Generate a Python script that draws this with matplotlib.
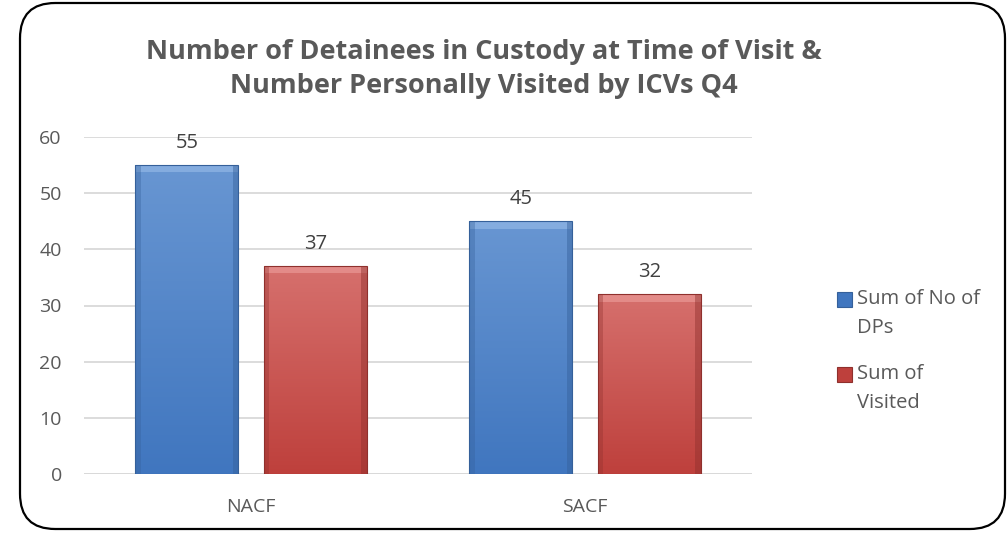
import matplotlib
matplotlib.use('Agg')
import matplotlib.pyplot as plt
import numpy as np
from matplotlib.patches import FancyBboxPatch, Rectangle

# ---- data ----
categories = ['NACF', 'SACF']
series_names = ['Sum of No of\nDPs', 'Sum of\nVisited']
no_of_dps = [55, 45]
visited = [37, 32]
yticks = [0, 10, 20, 30, 40, 50, 60]

plt.rcParams['font.family'] = ['Open Sans', 'DejaVu Sans']
TXT = '#595959'
W, H = 1008, 535

fig = plt.figure(figsize=(W / 100, H / 100), dpi=100)
ax = fig.add_axes([84 / W, 1 - 474 / H, 668 / W, 337 / H])

x = np.arange(len(categories))
width = 0.308
off = 0.192

# (top, bottom, edge, bevel light)
blue = ('#6896D2', '#4076BF', '#35609A', '#9CC0EC')
red = ('#D6706D', '#BE403C', '#8F302D', '#EFA3A1')

bars1 = ax.bar(x - off, no_of_dps, width, color=blue[1], lw=0, zorder=3)
bars2 = ax.bar(x + off, visited, width, color=red[1], lw=0, zorder=3)


def shade(bars, cols):
    cmap = matplotlib.colors.LinearSegmentedColormap.from_list('g', [cols[1], cols[0]])
    grad = np.linspace(0, 1, 256).reshape(-1, 1)
    for b in bars:
        x0, w, h = b.get_x(), b.get_width(), b.get_height()
        im = ax.imshow(grad, cmap=cmap, aspect='auto', origin='lower',
                       extent=(x0, x0 + w, 0, h), zorder=3.5)
        im.set_clip_path(b)
        # bevel: light strip on top, darker sides
        ax.bar(x0 + w / 2, 1.3, w, bottom=h - 1.3, color=cols[3], alpha=0.55, lw=0, zorder=3.6)
        ax.bar(x0 + 0.008, h, 0.016, color=cols[2], alpha=0.35, lw=0, zorder=3.6)
        ax.bar(x0 + w - 0.008, h, 0.016, color=cols[2], alpha=0.45, lw=0, zorder=3.6)
        ax.bar(x0 + w / 2, h, w, fill=False, edgecolor=cols[2], lw=0.8, zorder=4)


shade(bars1, blue)
shade(bars2, red)

for bars, vals in [(bars1, no_of_dps), (bars2, visited)]:
    for b, v in zip(bars, vals):
        ax.text(b.get_x() + b.get_width() / 2, v + 4.0, str(v), ha='center', va='center',
                fontsize=14.5, color='#404040')

ax.set_xlim(-0.5, 1.5)
ax.set_ylim(0, 60)
ax.set_yticks(yticks)
ax.set_xticks(x)
ax.set_xticklabels(categories)
ax.tick_params(axis='both', length=0, labelsize=14, colors=TXT)
ax.tick_params(axis='y', pad=16)
ax.tick_params(axis='x', pad=17)
ax.yaxis.grid(True, color='#D9D9D9', lw=1.3)
ax.set_axisbelow(True)
for s in ax.spines.values():
    s.set_visible(False)
ax.axhline(0, color='#D9D9D9', lw=1.3, zorder=2)

fig.text(484 / W, 1 - 69 / H, 'Number of Detainees in Custody at Time of Visit &\nNumber Personally Visited by ICVs Q4',
         ha='center', va='center', fontsize=19.5, fontweight='bold', color=TXT, linespacing=1.4)

# legend, drawn by hand so the key sits on the first text line
leg_y = [300, 375]
for name, cols, yy in zip(series_names, [blue, red], leg_y):
    fig.patches.append(Rectangle((837 / W, 1 - (yy + 7) / H), 15 / W, 15 / H, transform=fig.transFigure,
                                 facecolor=cols[1], edgecolor=cols[2], lw=0.8))
    fig.text(857 / W, 1 - (yy - 11) / H, name, ha='left', va='top', fontsize=14.5,
             color=TXT, linespacing=1.6)

border = FancyBboxPatch((20 / W, 6 / H), 985 / W, 526 / H,
                        boxstyle='round,pad=0,rounding_size=0.035', transform=fig.transFigure,
                        fill=False, edgecolor='black', lw=1.6, mutation_aspect=W / H)
fig.patches.append(border)

fig.savefig('out.png', dpi=100)
